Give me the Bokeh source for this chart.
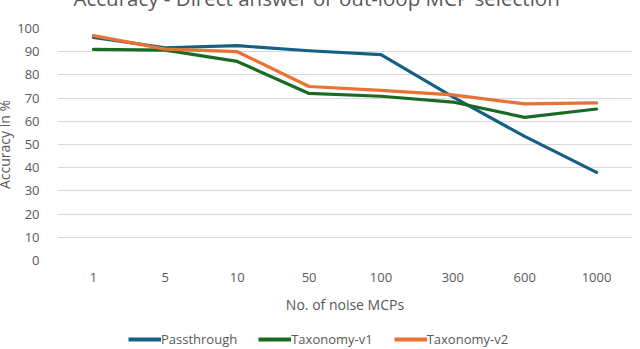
from bokeh.plotting import figure
from bokeh.layouts import column
from bokeh.models import Legend, LegendItem, FactorRange, FixedTicker
from bokeh.embed import file_html
from bokeh.resources import INLINE

categories = ["1", "5", "10", "50", "100", "300", "600", "1000"]
passthrough = [96.2, 91.7, 92.6, 90.4, 88.7, 70.5, 53.5, 38.0]
taxonomy_v1 = [91.0, 90.7, 85.8, 72.0, 70.8, 68.3, 61.7, 65.3]
taxonomy_v2 = [96.9, 91.1, 90.0, 75.0, 73.3, 71.4, 67.5, 67.9]
series = [passthrough, taxonomy_v1, taxonomy_v2]
series_names = ["Passthrough", "Taxonomy-v1", "Taxonomy-v2"]
colors = ["#156082", "#196B24", "#E97132"]
y_ticks = list(range(0, 101, 10))
title_text = "Accuracy - Direct answer or out-loop MCP selection"

FONT = "Open Sans"
GREY = "#595959"

p = figure(width=640, height=351, x_range=FactorRange(*categories, range_padding=0),
           y_range=(0, 100), output_backend="svg", toolbar_location=None,
           min_border_top=58, min_border_right=0, min_border_left=56, min_border_bottom=52)
p.outline_line_color = None
p.background_fill_color = "white"

p.title.text = title_text
p.title.align = "left"
p.title.offset = 16
p.title.standoff = 33
p.title.text_font = FONT
p.title.text_font_size = "20.5px"
p.title.text_font_style = "normal"
p.title.text_color = GREY

for name, vals, c in zip(series_names, series, colors):
    p.line(categories, vals, line_color=c, line_width=3.2, line_join="round", line_cap="round")

p.yaxis.ticker = FixedTicker(ticks=y_ticks)
p.ygrid.ticker = FixedTicker(ticks=y_ticks)
p.ygrid.grid_line_color = "#D9D9D9"
p.ygrid.grid_line_width = 1
p.xgrid.grid_line_color = None

for ax in (p.xaxis, p.yaxis):
    ax.axis_line_color = None
    ax.major_tick_line_color = None
    ax.minor_tick_line_color = None
    ax.major_label_text_font = FONT
    ax.major_label_text_color = GREY
    ax.major_label_text_font_size = "13px"
    ax.axis_label_text_font = FONT
    ax.axis_label_text_color = GREY
    ax.axis_label_text_font_size = "14px"
    ax.axis_label_text_font_style = "normal"

p.yaxis.axis_label = "Accuracy in %"
p.yaxis.major_label_standoff = 12
p.yaxis.axis_label_standoff = 0
p.xaxis.axis_label = "No. of noise MCPs"
p.xaxis.major_label_standoff = 6
p.xaxis.axis_label_standoff = 10

# legend strip under the chart (its lines lie outside its visible range; only the swatches show)
lf = figure(width=640, height=38, x_range=FactorRange(*categories), y_range=(1000, 1001),
            output_backend="svg", toolbar_location=None, min_border=0,
            x_axis_location=None, y_axis_location=None)
lf.grid.visible = False
lf.outline_line_color = None
leg_renderers = [lf.line(categories, vals, line_color=c, line_width=4) for vals, c in zip(series, colors)]

legend = Legend(items=[LegendItem(label=n, renderers=[r]) for n, r in zip(series_names, leg_renderers)],
                orientation="horizontal", location=(71, 6),
                label_text_font=FONT, label_text_color=GREY, label_text_font_size="13px",
                glyph_width=33, glyph_height=14, label_height=14, label_standoff=0,
                spacing=21, border_line_color=None,
                background_fill_alpha=0, margin=0, padding=0)
lf.add_layout(legend, "center")

layout = column(p, lf, spacing=0)
# the reference's title is cut by the top edge of the picture
layout.margin = (-35, -8, -23, -8)

open("out.html", "w").write(file_html(layout, INLINE))
